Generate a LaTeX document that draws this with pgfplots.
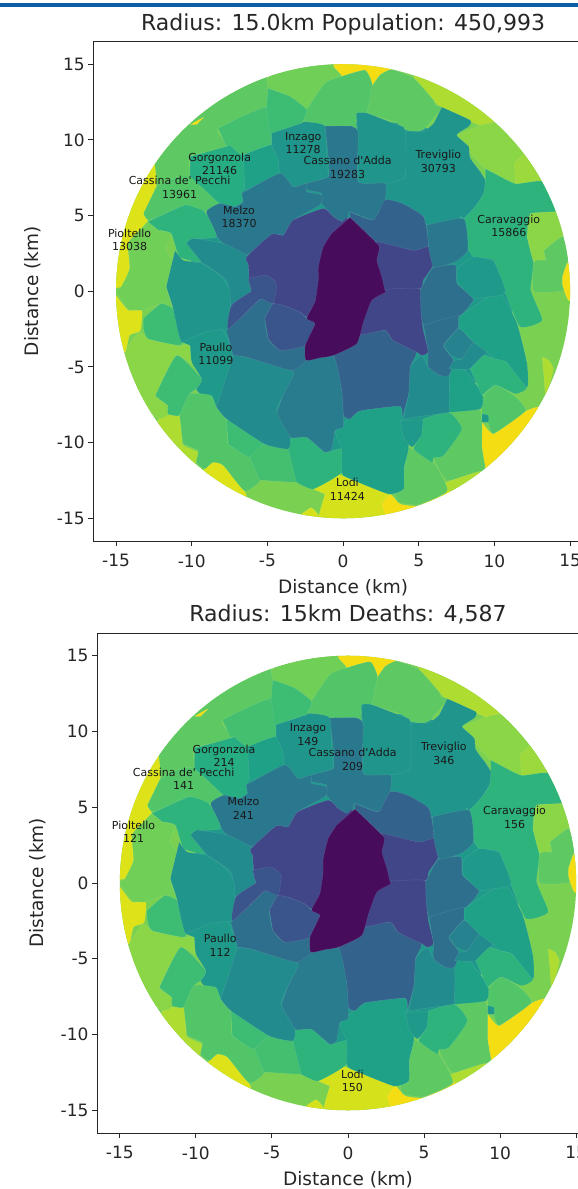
\documentclass[border=0pt]{standalone}
\usepackage{pgfplots}
\pgfplotsset{compat=1.18}
\usepackage{fontspec}
\setmainfont{DejaVu Sans}
\newcommand\reg[2]{\addplot[smooth,tension=0.3,fill=#1,draw=white,draw opacity=0.12,line width=0.4pt,mark=none,forget plot] coordinates {#2} -- cycle;}
\newcommand\lab[3]{\node[font=\fontsize{11}{13.6}\selectfont,align=center,text=black!90,inner sep=0pt] at (axis cs:#1,#2) {#3};}
\newcommand\regions{%
\reg{vbase}{(-17,-17)(17,-17)(17,17)(-17,17)}
\reg{t3}{(-10,3)(-10,-3)(-7,-8)(-3,-11)(3,-11)(7,-8)(11,-3)(11,3)(9,8)(5,11)(-3,11)(-7,8)}
\reg{vy}{(-0.7,16)(1.5,16)(3.2,14.7)(2.45,14.3)(1.94,13.6)(1.46,14.6)(-0.09,14.2)(-0.64,14.86)}
\reg{c10}{(5,15.5)(11,12)(9.5,11)(9.2,10.9)(6.5,12.1)(4.66,14.1)}
\reg{c9}{(9.2,11)(9.7,11.1)(11.5,11)(14,7.2)(11.4,7.1)(9.4,8.1)(8.3,9.3)(7.5,10.2)(8.4,10.7)}
\reg{c95}{(11.3,8.45)(12.3,9.2)(13.4,7.1)(11.4,7.1)}
\reg{c8}{(-3.5,15.5)(-0.6,15.5)(-0.64,14.86)(-0.09,14.2)(-1.08,13.75)(-2.4,12)(-3.5,12.87)(-4.95,13.4)(-5.05,14)}
\reg{c8b}{(-13,9)(-10,12)(-5,15)(-5.05,14)(-4.95,13.4)(-5.05,12.16)(-8.26,10.77)(-7.7,9.56)(-10.1,8.9)(-10.1,7.57)(-11,7.57)(-12.34,6.9)(-12.45,8.45)}
\reg{vy}{(-10.1,11)(-9.2,11.5)(-9.7,11)}
\reg{c75}{(-2.58,11.43)(-2.4,12)(-1.19,13.75)(-0.09,14.2)(1.46,14.6)(1.94,13.6)(1.57,11.77)(0.9,11.3)(0.9,10.44)(0.57,10.9)(-1.19,10.9)(-2.58,11.2)}
\reg{c8b}{(1.94,13.6)(2.45,14.3)(3.2,14.65)(4.66,14.1)(6,12.6)(6.1,12.3)(6.53,12.1)(5.43,10.77)(4.9,10.55)(4.1,10.66)(3.55,11.1)(1.57,11.77)}
\reg{t2}{(6.53,12.16)(8.4,11.3)(8.3,10.88)(7.5,10.33)(8.3,9.56)(8.4,8.8)(9.4,7.35)(9.3,6.47)(8.74,5.6)(7.97,4.8)(5.54,4.37)(5.32,4.92)(3.77,5.8)(2.78,6.03)(2.78,7.13)(4.1,7.57)(4.1,10.44)(5.32,10.55)(6,11.1)}
\reg{t2}{(0.9,11.3)(0.9,11.77)(1.57,11.77)(3.55,11)(4.1,10.66)(4.1,7.57)(2.78,7.13)(1,7.24)(1,10.44)}
\reg{g2}{(9.4,8.1)(9.96,7.8)(11.4,7.1)(13.2,7.24)(14.5,5.3)(12.4,5.14)(12.16,3.6)(12.6,1.83)(12.4,0.07)(13.16,-1.92)(11.7,-2.36)(10.73,-0.15)(9.96,2.05)(8.63,2.27)(8.08,3.16)(7.75,4.92)(7.97,4.8)(8.74,5.6)(9.3,6.47)(9.4,7.35)}
\reg{c9}{(12.4,5.14)(13.9,5.25)(15.5,5.25)(14.5,3.6)(13.27,2.7)(13.4,2.05)(12.6,1.94)(12.16,3.6)}
\reg{c8b}{(13.27,2.7)(14.5,3.6)(14.9,2.27)(14.6,1.4)(14.6,0.07)(12.6,0)(12.6,1.94)(13.4,2.05)}
\reg{vy}{(14.8,1.83)(16,1.9)(16,-0.7)(14.9,-0.6)(14.5,0.4)(14.5,1)}
\reg{c10}{(13.16,-4.35)(13.6,-4.57)(13.9,-5.2)(13.4,-6.9)(13.27,-5.67)}
\reg{vy}{(9.18,-8.65)(9.95,-9.43)(11.94,-8)(12.83,-7.66)(14,-8)(10.5,-12.5)(9.4,-11.74)(9.18,-10.3)}
\reg{c8b}{(7,-8)(8.97,-7.77)(9.18,-8.65)(9.18,-10.3)(9.4,-11.74)(9,-11.96)(6.87,-12.5)(5.98,-11)(6.64,-10.86)(7.75,-9.2)(7.1,-8.4)}
\reg{c75}{(9.18,-7)(10.06,-6.2)(11.3,-6.9)(12.05,-7.9)(9.95,-9.4)(9.6,-8.76)(9.18,-8.1)}
\reg{t3}{(9.18,-8.1)(9.6,-8.2)(9.6,-8.65)(9.18,-8.65)}
\reg{c10}{(6.6,-12.7)(9.1,-11.9)(9.4,-13)(6.9,-13.9)}
\reg{vy}{(2.56,-14.06)(3.1,-13.4)(3.77,-14.06)(5,-14.17)(6.9,-13.18)(7.5,-14)(4,-16)(2.6,-15)}
\reg{c8b}{(4.33,-10.3)(5.98,-11.3)(6.9,-13.2)(5,-14.1)(3.66,-13.95)(3.44,-13.4)(4,-13.07)(4.04,-11.63)}
\reg{lodi}{(-1.96,-13.07)(-0.64,-12.07)(0.24,-12.3)(3,-13.4)(2.56,-14.06)(3,-16)(-1.6,-16)(-1.6,-14.85)(-1.19,-13.4)}
\reg{lodi}{(-2.85,-14.8)(-2.1,-14.3)(-1.63,-14.8)(-1.63,-15.5)}
\reg{vy2}{(-9.14,-11.74)(-8.6,-11.3)(-7.9,-11.5)(-6.4,-13.4)(-7,-14.5)(-10,-13)}
\reg{c10}{(-12.1,-8.3)(-10.8,-8.2)(-10.6,-10.1)(-9.6,-10.64)(-9.7,-11.3)(-11,-12)(-13,-10)}
\reg{c9}{(-14.4,-4)(-13.5,-2.7)(-12.8,-3.2)(-10.7,-3.6)(-10,-3.47)(-9.9,-4.8)(-11,-4.24)(-12.4,-6.9)(-11.5,-7.55)(-11.6,-8.2)(-12.2,-8.4)(-14,-7)(-15.5,-5)}
\reg{vy2}{(-15,-0.26)(-14.2,-1.26)(-13.3,-1.26)(-13.4,-2.6)(-14.1,-2.9)(-14.4,-4)(-15.5,-4)(-16,-0.3)}
\reg{g3}{(-13.2,-1.8)(-12,-0.8)(-11.25,-1.15)(-10.6,-3)(-10.8,-3.58)(-12.9,-3.13)(-13.2,-2.36)}
\reg{vy2}{(-12.45,8.45)(-12.34,6.9)(-13.18,5.14)(-12.9,4.6)(-13.55,3.93)(-14.2,3.16)(-14.1,1.5)(-14.66,0.29)(-15.8,0.3)(-15.5,1.6)(-15,4)(-14,7)(-13,9)}
\reg{c8}{(-13.55,3.93)(-14.2,3.16)(-14.1,1.5)(-14.66,0.29)(-15,0)(-14.2,-1.15)(-13.3,-1.26)(-12,-0.8)(-11.25,-1.04)(-11.7,0.29)(-11.1,1.83)(-11.7,2.7)(-11.35,3.82)(-12.2,4.04)(-12.9,4.6)}
\reg{c75}{(-12.34,6.9)(-11,7.57)(-10.1,7.57)(-9.14,6.7)(-8.15,5.8)(-9.14,5.25)(-10.35,5.7)(-11,5.47)(-12.8,4.7)(-13.18,5.14)}
\reg{g1}{(-10.1,8.9)(-7.7,9.56)(-7.5,9.67)(-6.6,9)(-6.5,6.9)(-6.7,6.47)(-6.6,5.9)(-7.15,5.6)(-8.15,5.8)(-9.14,6.7)(-10.1,7.57)}
\reg{g4}{(-8.26,10.77)(-5.05,12.16)(-4.72,9.67)(-6.6,9)(-7.5,9.67)(-7.7,9.56)}
\reg{g3}{(-4.95,13.4)(-3.5,12.87)(-2.4,12)(-2.58,11.43)(-2.74,11.1)(-4.55,10.44)(-4.72,9.67)(-5.05,12.16)}
\reg{t1}{(-6.6,9)(-4.72,9.67)(-4.28,8.68)(-4.17,7.8)(-6.38,6.7)(-6.5,6.9)}
\reg{t2}{(-4.72,10.44)(-2.74,11.1)(-2.58,11.2)(-1.19,10.9)(-1.08,8.45)(-0.97,7.57)(-2.4,7.13)(-3.3,6.9)(-4.17,7.8)(-4.28,8.68)(-4.72,9.67)}
\reg{b3}{(-1.19,10.9)(0.57,10.9)(1,10.44)(1,7.24)(2.78,7.13)(2.78,6.03)(2.56,5.6)(2,4.7)(0.46,5.25)(0.35,4.8)(-0.09,4.6)(-0.64,4.92)(-1.52,5.92)(-1.41,6.47)(-2.4,6.7)(-2.4,7.13)(-0.97,7.57)(-0.97,8.9)}
\reg{b3}{(-6.7,6.47)(-4.17,7.8)(-3.3,6.9)(-2.4,7.13)(-2.4,6.58)(-1.41,6.36)(-1.52,5.7)(-3.3,4.7)(-3.95,3.7)(-4.72,3.77)(-6.38,2.38)(-7.92,3.16)(-8.37,3.7)(-9.03,5.25)(-8.15,5.8)(-7.15,5.58)(-6.6,5.9)}
\reg{g2}{(-12.9,4.6)(-11,5.47)(-10.35,5.7)(-9.14,5.25)(-8.37,3.6)(-10.13,3.38)(-9.36,1.94)(-10.8,2.27)(-11.35,3.82)(-12.2,4.04)}
\reg{t4}{(-10.35,3.16)(-9.9,3.49)(-7.92,3.16)(-6.38,2.38)(-6.27,1.83)(-6.16,0.29)(-6.05,0)(-7.37,-0.93)(-7.7,0.73)(-9.36,1.94)}
\reg{t2}{(-11.1,2.7)(-10.57,2.05)(-9.36,1.83)(-8.03,0.95)(-7.48,0)(-7.44,-2.36)(-7.92,-2.58)(-9,-2.7)(-10.66,-3.36)(-11.25,-1.04)(-11.68,0.29)}
\reg{t3}{(-10.66,-3.36)(-9.14,-2.7)(-8.37,-2.58)(-7.92,-2.58)(-7.26,-4.24)(-8.37,-7.66)(-8.7,-7.55)(-9.36,-6.89)(-9.7,-6.45)(-9.36,-5.78)(-10,-4.68)(-10.1,-3.58)}
\reg{g3}{(-12.4,-6.9)(-11,-4.24)(-9.36,-5.78)(-9.7,-6.45)(-10.13,-6.78)(-10.8,-8.2)(-11.57,-8.1)(-11.57,-7.55)}
\reg{c75}{(-10.8,-8.2)(-10.13,-6.78)(-8.7,-6.89)(-8.37,-7.66)(-7.7,-8.54)(-7.6,-10.1)(-6.16,-10.97)(-5.5,-12.5)(-6.5,-13.2)(-7.92,-11.5)(-8.6,-11.3)(-9.14,-11.74)(-9.7,-11.3)(-9.58,-10.53)(-10.57,-10.1)}
\reg{g3}{(-7.7,-8.43)(-5.17,-10.1)(-6.16,-10.97)(-7.6,-10.1)}
\reg{g4}{(-6.16,-10.97)(-5.17,-10.1)(-3.63,-10.4)(-3,-12.5)(-3.07,-12.63)(-5.17,-12.5)(-5.5,-12.5)}
\reg{g2}{(-3.63,-10.4)(-3.5,-9.65)(-2.4,-9.65)(-1.2,-10.64)(-0.09,-10.42)(-0.09,-11.97)(-1.96,-13.07)(-3.07,-12.63)}
\reg{t1}{(-0.53,-9.2)(1.13,-7.9)(3.77,-7.6)(3.9,-8.54)(4.33,-10.3)(4.04,-11.63)(4,-13.07)(3,-13.4)(0.24,-12.3)(-0.09,-11.97)(-0.09,-10.42)(-0.42,-9.65)}
\reg{t3}{(3.77,-8.54)(5.3,-8.54)(5.2,-9.54)(4.55,-10.3)(3.98,-9.65)}
\reg{g2}{(5.3,-8.43)(7,-8)(7.85,-9.1)(6.64,-10.86)(5.98,-11)(5.87,-11.3)(4.66,-10.42)(5.2,-9.54)}
\reg{t1}{(7,-5.12)(7.9,-5.1)(9.18,-6.7)(9.1,-7.77)(7,-8)}
\reg{t4}{(4,-8.43)(4.33,-6.78)(4.44,-5)(5.2,-4.24)(5.63,-5)(6.4,-5.56)(7,-5.56)(7,-8)}
\reg{b5}{(-0.64,-4.24)(1.13,-2.9)(2.78,-2.58)(3.3,-3.25)(4.84,-4)(4.44,-5)(4.33,-6.78)(3.9,-8.32)(3.77,-7.6)(1.13,-7.9)(0.46,-8.43)(0.02,-8.2)(-0.09,-6.56)}
\reg{b2}{(-3.4,-5.23)(-2.4,-4.57)(-0.64,-4.24)(-0.09,-6.56)(0.02,-8.2)(0.02,-8.98)(-0.53,-9.2)(-0.75,-10.4)(-1.2,-10.64)(-2.4,-9.65)(-3.5,-9.65)(-4.4,-8.1)}
\reg{t4}{(-7.26,-4.24)(-6.4,-4.35)(-3.5,-5.2)(-3.3,-5.56)(-4.4,-7.88)(-3.5,-9.65)(-3.63,-10.42)(-5.17,-10.1)(-7.7,-8.43)(-8.37,-7.66)}
\reg{b4}{(-7.7,-2.58)(-5.7,-0.7)(-5.4,-0.5)(-4.6,-0.8)(-5.17,-1.8)(-4.95,-3.13)(-4.17,-3.9)(-2.5,-3.58)(-2.4,-4.57)(-3.4,-5.23)(-6.4,-4.35)(-7.26,-4.24)}
\reg{b6}{(-5.17,-1.8)(-4.6,-0.8)(-3.95,-0.93)(-2.85,-1.37)(-2.4,-1.8)(-1.85,-2.14)(-2.5,-3.58)(-4.17,-3.9)(-4.95,-3.13)}
\reg{p2}{(-6.27,1.83)(-6.38,2.27)(-4.72,3.77)(-3.95,3.7)(-3.3,4.7)(-1.3,5.47)(-0.64,4.92)(-0.09,4.6)(0.3,4.8)(0,2)(-1,-1.5)(-2.4,-1.7)(-2.85,-1.37)(-3.95,-0.93)(-4.6,-0.8)(-5.4,-0.5)(-5.7,-0.7)(-7.44,-2.36)(-7.37,-0.93)(-6.05,0)(-6.16,0.29)}
\reg{b6}{(-6.27,0.84)(-5.05,1.06)(-4.4,0.5)(-4.6,-0.8)(-5.4,-0.5)(-5.7,-0.7)(-7.6,-2.5)(-7.37,-0.93)(-6.05,0)}
\reg{b5}{(0.46,5.25)(2,4.7)(2.78,6.03)(3.9,5.8)(5.32,4.92)(5.65,2.94)(4.66,2.7)(2.34,3.16)(1.57,3.82)(0.46,4.88)}
\reg{p2}{(2.2,3.3)(4.66,2.7)(5.65,2.94)(6,1.83)(5.3,0.73)(5.1,0.18)(2.5,0)(2.2,0.95)(2,2.05)}
\reg{p2}{(2.5,0.1)(5.1,0.15)(5.2,-1.7)(5.3,-2.58)(5.63,-4)(5.2,-4.24)(4.84,-4)(3.3,-3.25)(2.78,-2.58)(1,-2.9)(1.1,-2.03)(1.7,-0.6)}
\reg{b4}{(5.54,0.95)(6,1.6)(7.42,1.72)(7.53,0.5)(8.63,-0.49)(7.64,-1.7)(5.32,-2.25)(5.1,0.07)}
\reg{b4}{(5.32,-2.25)(7.64,-1.6)(7.64,-2.36)(6.64,-3.58)(7.3,-4.57)(7,-5.56)(6.4,-5.56)(5.63,-5)(5.63,-4)}
\reg{t5}{(6.64,-3.58)(7.64,-2.47)(8.63,-3.36)(7.86,-4.46)(7.1,-4.24)}
\reg{t4}{(7.3,-4.57)(7.86,-4.46)(8.63,-3.36)(9.5,-4)(8.4,-5.12)(7,-5.12)}
\reg{g2}{(8.4,-5.12)(9.3,-4.24)(10,-4.46)(10.8,-4.7)(12.16,-6.34)(11.4,-6.78)(10.06,-6.2)(9.18,-6.9)}
\reg{t1}{(7.64,-1.7)(9.6,-0.37)(10.5,-0.26)(11.5,-2.14)(12.16,-4.8)(12.16,-6.34)(10.8,-4.7)(10,-4.46)(9.5,-4)(8.63,-3.36)(7.64,-2.36)}
\reg{t3}{(7.53,1.5)(8.63,2.27)(9.96,1.94)(10.73,0.07)(10.5,-0.26)(9.6,-0.37)(8.63,-0.49)(7.53,0.6)}
\reg{b3}{(5.54,4.37)(7.97,4.8)(8.24,2.72)(7.42,1.94)(6,1.6)(5.65,2.94)}
\reg{vdark}{(0.46,4.88)(1.57,3.82)(2.4,2.94)(2.23,2.05)(2.56,0.95)(2.78,0)(2.85,-0.04)(1.9,-0.6)(1.35,-2.03)(0.9,-3.47)(-0.64,-4.24)(-1.52,-4.4)(-2.45,-4.57)(-2.5,-3.58)(-1.85,-2.14)(-2.4,-1.8)(-1.85,-0.7)(-1.63,0.73)(-1.63,1.6)(-1.3,2.94)(-0.75,3.82)}
}
\definecolor{vbase}{HTML}{7AD151}
\definecolor{vy}{HTML}{F5DD14}
\definecolor{vy2}{HTML}{DDE318}
\definecolor{lodi}{HTML}{D5E21B}
\definecolor{c10}{HTML}{AEDC30}
\definecolor{c95}{HTML}{9BD93C}
\definecolor{c9}{HTML}{8BD646}
\definecolor{c8}{HTML}{70CF57}
\definecolor{c8b}{HTML}{5EC962}
\definecolor{c75}{HTML}{52C569}
\definecolor{g4}{HTML}{44BF70}
\definecolor{g3}{HTML}{3DBC74}
\definecolor{g2}{HTML}{2EB37C}
\definecolor{g1}{HTML}{26AD81}
\definecolor{t1}{HTML}{1FA188}
\definecolor{t3}{HTML}{1F9A8A}
\definecolor{t2}{HTML}{1F958B}
\definecolor{t4}{HTML}{228B8D}
\definecolor{t5}{HTML}{26828E}
\definecolor{b3}{HTML}{2A788E}
\definecolor{b2}{HTML}{297B8E}
\definecolor{b4}{HTML}{2E6F8E}
\definecolor{b5}{HTML}{33638D}
\definecolor{b6}{HTML}{3A548C}
\definecolor{p2}{HTML}{404688}
\definecolor{vdark}{HTML}{470D5C}
\pgfplotsset{myaxis/.style={
  scale only axis, xmin=-16.5, xmax=16.5, ymin=-16.5, ymax=16.5,
  xtick={-15,-10,-5,0,5,10,15}, ytick={-15,-10,-5,0,5,10,15},
  xticklabels={-15,-10,-5,0,5,10,15}, yticklabels={-15,-10,-5,0,5,10,15},
  tick align=outside, tick pos=left, major tick length=5pt,
  every tick/.style={black!85,line width=0.9pt}, axis line style={black!85,line width=0.9pt},
  tick label style={font=\fontsize{17}{20}\selectfont,text=black!85},
  xticklabel style={yshift=-5pt},
  xlabel={Distance (km)}, ylabel={Distance (km)},
  label style={font=\fontsize{18.5}{20}\selectfont,text=black!85},
  xlabel style={at={(axis description cs:0.5,-0.0931)},anchor=center},
  title style={font=\fontsize{22}{24}\selectfont,text=black!85,anchor=center},
  axis on top,
}}
\begin{document}
\begin{tikzpicture}[x=1pt,y=1pt]
\useasboundingbox (0,0) rectangle (578,1189);
\clip (0,0) rectangle (578,1189);
\fill[white] (0,0) rectangle (578,1189);
\fill[fill={rgb,255:red,10;green,94;blue,165}] (0,1181.5) rectangle (578,1186);
\begin{axis}[myaxis, at={(93.3pt,648pt)}, anchor=south west, width=499.5pt, height=499.5pt,
  title={Radius: 15.0km Population: 450,993},
  title style={at={(axis description cs:0.5,1.022)}},
  ylabel style={at={(axis description cs:-0.1207,0.5)},anchor=center},
  ]
\begin{scope}
\clip (axis cs:0,0) circle [radius=15];
\regions
\end{scope}
\lab{-8.15}{8.4}{Gorgonzola\\21146}
\lab{-10.8}{6.87}{Cassina de\textquotesingle\ Pecchi\\13961}
\lab{-2.63}{9.78}{Inzago\\11278}
\lab{0.3}{8.17}{Cassano d\textquotesingle Adda\\19283}
\lab{6.3}{8.56}{Treviglio\\30793}
\lab{10.95}{4.33}{Caravaggio\\15866}
\lab{-6.87}{4.92}{Melzo\\18370}
\lab{-14.1}{3.38}{Pioltello\\13038}
\lab{-8.4}{-4.13}{Paullo\\11099}
\lab{0.29}{-13.07}{Lodi\\11424}
\end{axis}
\begin{axis}[myaxis, at={(97pt,56pt)}, anchor=south west, width=502pt, height=500pt,
  title={Radius: 15km Deaths: 4,587},
  title style={at={(axis description cs:0.5,1.026)}},
  ylabel style={at={(axis description cs:-0.1175,0.5)},anchor=center},
  ]
\begin{scope}
\clip (axis cs:0,0) circle [radius=15];
\regions
\end{scope}
\lab{-8.15}{8.4}{Gorgonzola\\214}
\lab{-10.8}{6.87}{Cassina de\textquotesingle\ Pecchi\\141}
\lab{-2.63}{9.78}{Inzago\\149}
\lab{0.3}{8.17}{Cassano d\textquotesingle Adda\\209}
\lab{6.3}{8.56}{Treviglio\\346}
\lab{10.95}{4.33}{Caravaggio\\156}
\lab{-6.87}{4.92}{Melzo\\241}
\lab{-14.1}{3.38}{Pioltello\\121}
\lab{-8.4}{-4.13}{Paullo\\112}
\lab{0.29}{-13.07}{Lodi\\150}
\end{axis}
\end{tikzpicture}
\end{document}
